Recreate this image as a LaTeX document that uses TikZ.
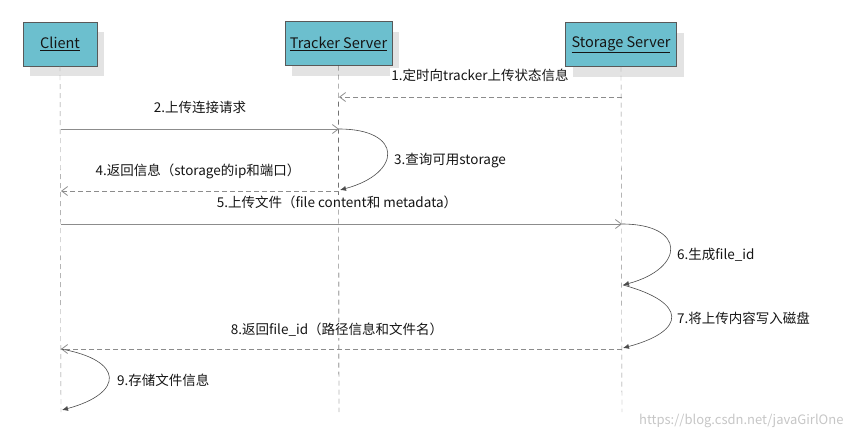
\documentclass[tikz,border=0pt]{standalone}
\usepackage{fontspec}
\setmainfont{Noto Sans CJK SC}
\usetikzlibrary{arrows.meta,shadows}
\definecolor{boxblue}{HTML}{6CBFCE}
\definecolor{linegray}{HTML}{8C8C8C}
\definecolor{textgray}{HTML}{151515}

\begin{document}
\begin{tikzpicture}[x=1pt,y=-1pt]
		\useasboundingbox (0,0) rectangle (854,440);

		% lifeline heads
		\begin{scope}[every node/.style={draw=gray!70!black, fill=boxblue, minimum height=44pt, inner sep=0pt, text=textgray,
				font=\fontsize{14.5}{16}\selectfont,
				drop shadow={shadow xshift=7pt, shadow yshift=-10pt, fill=gray!22, opacity=1}}]
			\node[minimum width=74pt] (client) at (60,44) {\underline{Client}};
			\node[minimum width=107pt] (tracker) at (338.5,43.5) {\underline{Tracker Server}};
			\node[minimum width=111pt] (storage) at (621,44.5) {\underline{Storage Server}};
		\end{scope}

		\coordinate (clientEnd) at (61,412);
		\coordinate (trackerEnd) at (339,412);
		\coordinate (storageEnd) at (622,412);

		% lifelines
		\draw [linegray, dashed, dash pattern=on 5pt off 4pt] (client.south) -- (clientEnd);
		\draw [black!85, dashed, dash pattern=on 5pt off 4pt] (tracker.south) -- (trackerEnd);
		\draw [linegray, dashed, dash pattern=on 5pt off 4pt] (storage.south) -- (storageEnd);

		% message end points
		\coordinate (s1) at (622,97);   \coordinate (t1) at (339,97);
		\coordinate (c2) at (61,129);   \coordinate (t2) at (339,129);
		\coordinate (t3) at (340,190);
		\coordinate (t4) at (339,191);  \coordinate (c4) at (61,191);
		\coordinate (c5) at (61,224);   \coordinate (s5) at (622,224);
		\coordinate (s6) at (623,285);
		\coordinate (s7) at (623,348);
		\coordinate (s8) at (622,349);  \coordinate (c8) at (61,349);
		\coordinate (c9) at (62,410);

		\begin{scope}[every edge/.style={draw=linegray, thick, -{Straight Barb[length=6pt,width=9pt]}},
				ret/.style={dash pattern=on 5pt off 3pt}]
			\path (s1) edge [ret] (t1);
			\path (c2) edge (t2);
			\path (t4) edge [ret] (c4);
			\path (c5) edge (s5);
			\path (s8) edge [ret] (c8);
		\end{scope}

		% self messages
		\begin{scope}[every edge/.style={draw=gray!60!black, semithick, -{Latex[length=6pt,width=5pt]}}]
			\path (t2) edge [out=0, in=15, looseness=2.7] (t3);
			\path (s5) edge [out=0, in=15, looseness=2.7] (s6);
			\path (s6) edge [out=-15, in=15, looseness=2.7] (s7);
			\path (c8) edge [out=-10, in=15, looseness=2.7] (c9);
		\end{scope}

		% labels
		\begin{scope}[every node/.style={fill=white, inner sep=1pt, text=textgray, font=\fontsize{13.5}{16}\selectfont}]
			\node (lab1) at (480,75) {1.定时向tracker上传状态信息};
			\node (lab2) at (200,107) {2.上传连接请求};
			\node[anchor=west] (lab3) at (393,161) {3.查询可用storage};
			\node (lab4) at (198,171) {4.返回信息（storage的ip和端口）};
			\node (lab5) at (337,202) {5.上传文件（file content和 metadata）};
			\node[anchor=west] (lab6) at (676,255) {6.生成file\_id};
			\node[anchor=west] (lab7) at (676,318) {7.将上传内容写入磁盘};
			\node (lab8) at (337,330) {8.返回file\_id（路径信息和文件名）};
			\node[anchor=west] (lab9) at (116,380) {9.存储文件信息};
		\end{scope}

		\node[anchor=east, text=gray!45, font=\fontsize{13}{15}\selectfont] (mark) at (847,421) {https://blog.csdn.net/javaGirlOne};

	\end{tikzpicture}
\end{document}
